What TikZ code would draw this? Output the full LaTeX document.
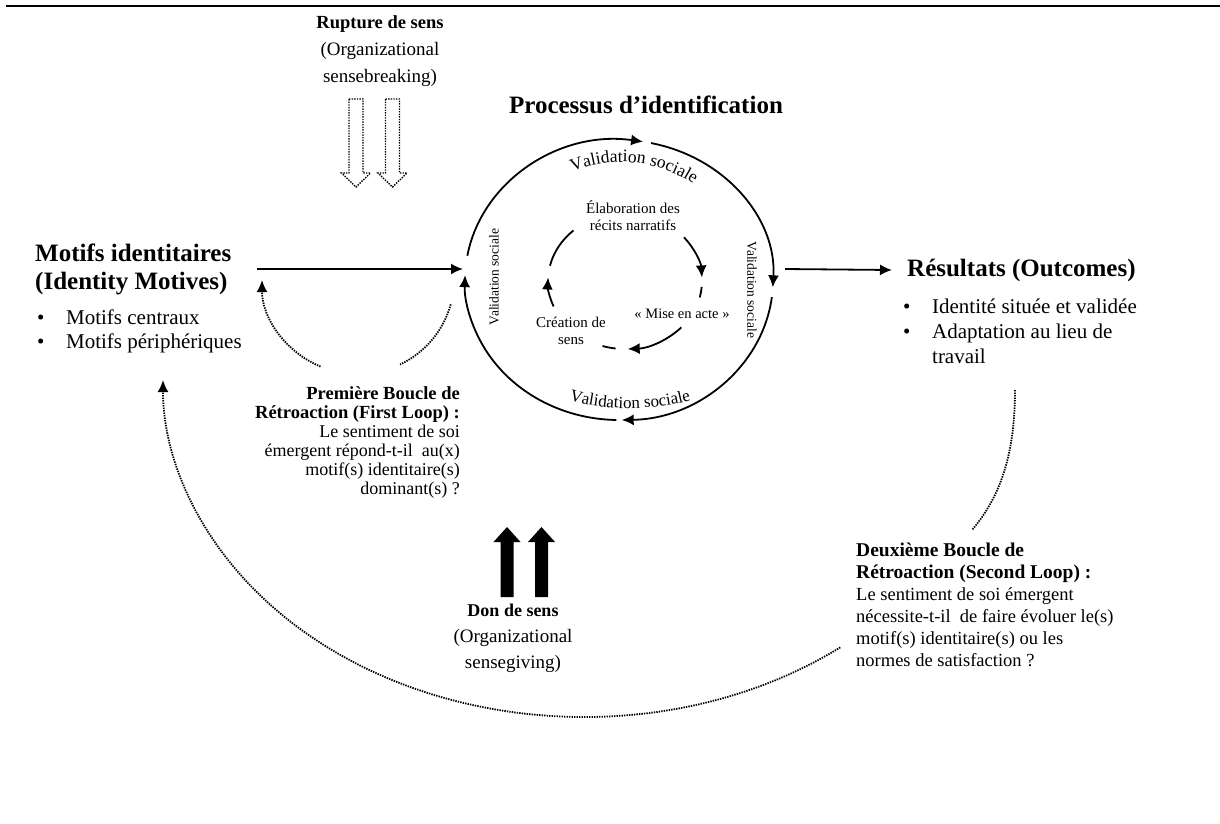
\documentclass[tikz,border=0pt]{standalone}
\usepackage{fontspec}
\setmainfont{Liberation Serif}
\usetikzlibrary{arrows.meta}
\usetikzlibrary{decorations.text}

\tikzset{
  heading/.style={inner sep=0pt, font=\fontsize{25}{28}\selectfont\bfseries},
  listtext/.style={inner sep=0pt, font=\fontsize{21}{24}\selectfont},
  sidetext/.style={inner sep=0pt, font=\fontsize{13.5}{14}\selectfont},
  cycletext/.style={inner sep=0pt, align=center, font=\fontsize{15}{17}\selectfont},
  ring/.style={line width=1.8pt},
  tip/.style={-{Latex[length=12pt,width=11pt]}},
  flow/.style={line width=1.8pt, tip},
  feedback/.style={line width=1.8pt, dash pattern=on 1.4pt off 1.1pt},
}

% hollow dotted arrow pointing down, solid arrow pointing up
\newcommand{\breakarrow}[1]{\draw[line width=1.4pt, dash pattern=on 1.4pt off 1.2pt]
  (#1-7,-99) -- (#1+7,-99) -- (#1+7,-173) -- (#1+14.5,-173) -- (#1,-187)
  -- (#1-14.5,-173) -- (#1-7,-173) -- cycle;}
\newcommand{\givearrow}[1]{\fill (#1-6.5,-597) -- (#1+6.5,-597) -- (#1+6.5,-542)
  -- (#1+13.5,-542) -- (#1,-527) -- (#1-13.5,-542) -- (#1-6.5,-542) -- cycle;}

\begin{document}
\begin{tikzpicture}[x=1pt,y=1pt]
\useasboundingbox (0,0) rectangle (1220,-823);
\draw[line width=2.5pt] (6,-6) -- (1220,-6);

% left and right blocks
\node[heading, anchor=west, align=left] (motifs) at (35,-269) {Motifs identitaires\\(Identity Motives)};
\node[listtext, anchor=north west] (motiflist) at (37,-307) {%
  \begin{tabular}{@{}l@{\hspace{21.6pt}}l@{}}
  \textbullet & Motifs centraux\\
  \textbullet & Motifs périphériques
  \end{tabular}};
\node[heading, anchor=west] (res) at (907,-270) {Résultats (Outcomes)};
\node[listtext, font=\fontsize{21}{25}\selectfont, anchor=north west] (reslist) at (903,-296) {%
  \begin{tabular}{@{}l@{\hspace{21.6pt}}l@{}}
  \textbullet & Identité située et validée\\
  \textbullet & Adaptation au lieu de\\
   & travail
  \end{tabular}};

% identification process
\node[heading] (proc) at (646,-105) {Processus d’identification};
\coordinate (ring) at (619,-280);
\coordinate (ringW) at (463,-269);
\coordinate (ringE) at (785,-269);
\draw[ring, tip] ([shift={(170:154 and 140)}]ring) arc[start angle=170, end angle=81, x radius=154, y radius=140];
\draw[ring, tip] ([shift={(78:154 and 140)}]ring) arc[start angle=78, end angle=-3, x radius=154, y radius=140];
\draw[ring, tip] ([shift={(-7:154 and 140)}]ring) arc[start angle=-7, end angle=-89, x radius=154, y radius=140];
\draw[ring, tip] ([shift={(-91:154 and 140)}]ring) arc[start angle=-91, end angle=-182, x radius=154, y radius=140];
\path[decorate, decoration={text along path, text align=center,
  text={|\fontsize{17.5}{18}\selectfont|Validation sociale}}]
  ([shift={(128:130)}]621,-292) arc[start angle=128, end angle=40, radius=130];
\path[decorate, decoration={text along path, text align=center,
  text={|\fontsize{17}{17}\selectfont|Validation sociale}}]
  (560,-397) .. controls (600,-412) and (660,-412) .. (700,-397);
\node[sidetext, rotate=90] (valW) at (494,-277) {Validation sociale};
\node[sidetext, rotate=-90] (valE) at (752,-290) {Validation sociale};

% inner cycle
\coordinate (cycle) at (625,-281);
\node[cycletext] (recits) at (633,-216) {Élaboration des\\récits narratifs};
\node[cycletext, font=\fontsize{14.5}{17}\selectfont] (acte) at (682,-314) {« Mise en acte »};
\node[cycletext] (creation) at (571,-331) {Création de\\sens};
\draw[ring] ([shift={(132:77 and 68)}]cycle) arc[start angle=132, end angle=167, x radius=77, y radius=68];
\draw[ring, tip] ([shift={(202:77 and 68)}]cycle) arc[start angle=202, end angle=177, x radius=77, y radius=68];
\draw[ring, tip] ([shift={(40:77 and 68)}]cycle) arc[start angle=40, end angle=3, x radius=77, y radius=68];
\draw[ring] ([shift={(-5:77 and 68)}]cycle) arc[start angle=-5, end angle=-14, x radius=77, y radius=68];
\draw[ring, tip] ([shift={(-43:77 and 68)}]cycle) arc[start angle=-43, end angle=-88, x radius=77, y radius=68];
\draw[ring] ([shift={(-97:77 and 68)}]cycle) arc[start angle=-97, end angle=-107, x radius=77, y radius=68];

% main flow
\draw[flow] ([xshift=26pt]motifs.east) -- (ringW);
\draw[flow] (ringE) -- ([xshift=-15pt]res.west);

% sensebreaking and sensegiving
\node[align=center, inner sep=0pt, anchor=north, font=\fontsize{19}{27}\selectfont] (rupture) at (380,-15)
  {{\fontsize{18.5}{27}\selectfont\bfseries Rupture de sens}\\(Organizational\\sensebreaking)};
\breakarrow{356}
\breakarrow{392.5}
\givearrow{507}
\givearrow{541.5}
\node[align=center, inner sep=0pt, anchor=north, font=\fontsize{19}{26}\selectfont] (don) at (513,-604)
  {{\fontsize{18}{26}\selectfont\bfseries Don de sens}\\(Organizational\\sensegiving)};

% first loop
\coordinate (loopA) at (358,-280);
\draw[feedback] ([shift={(-15:96 and 94)}]loopA) arc[start angle=-15, end angle=-64, x radius=96, y radius=94];
\draw[feedback, tip] ([shift={(-113:96 and 94)}]loopA) arc[start angle=-113, end angle=-180, x radius=96, y radius=94];
\node[align=right, inner sep=0pt, anchor=north east, font=\fontsize{18}{19}\selectfont] (firstloop) at (460,-386)
  {{\fontsize{18.5}{19}\selectfont\bfseries Première Boucle de}\\
   {\fontsize{18.5}{19}\selectfont\bfseries Rétroaction (First Loop) :}\\
   Le sentiment de soi\\
   émergent répond-t-il\ \ au(x)\\
   motif(s) identitaire(s)\\
   dominant(s) ?};

% second loop
\coordinate (loopB) at (584,-380);
\coordinate (resfoot) at (1015,-390);
\coordinate (loopend) at (972,-530);
\draw[feedback] (resfoot) .. controls (1015,-455) and (1000,-497) .. (loopend);
\draw[feedback, tip] ([shift={(-52.5:421 and 337)}]loopB) arc[start angle=-52.5, end angle=-180, x radius=421, y radius=337];
\node[align=left, inner sep=0pt, anchor=north west, font=\fontsize{18.5}{22}\selectfont] (secondloop) at (856,-543)
  {{\fontsize{19.5}{22}\selectfont\bfseries Deuxième Boucle de}\\
   {\fontsize{19.5}{22}\selectfont\bfseries Rétroaction (Second Loop) :}\\
   Le sentiment de soi émergent\\
   nécessite-t-il\ \ de faire évoluer le(s)\\
   motif(s) identitaire(s) ou les\\
   normes de satisfaction ?};
\end{tikzpicture}
\end{document}
